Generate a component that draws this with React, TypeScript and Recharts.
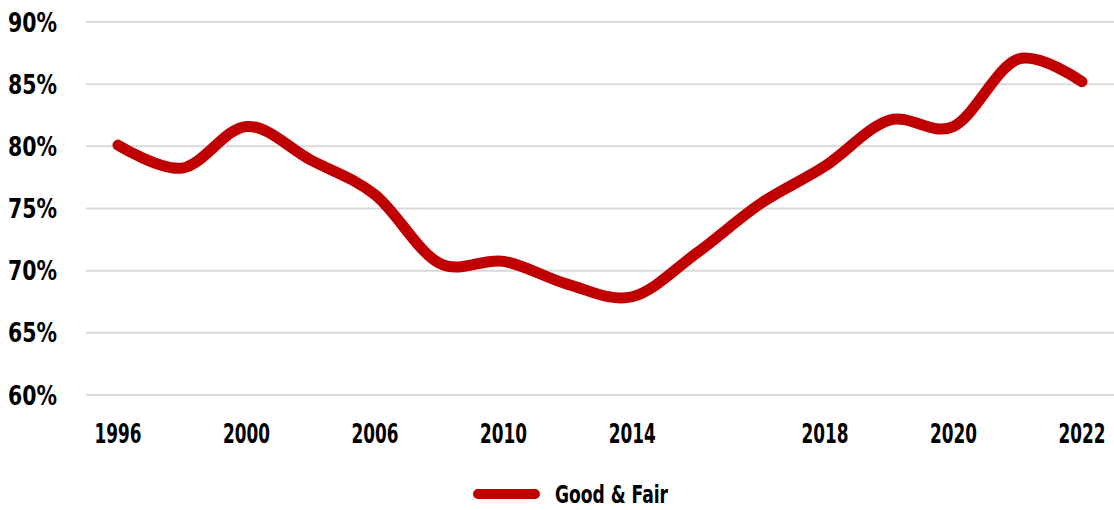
import React from "react";
import { LineChart, Line, XAxis, YAxis, CartesianGrid, Legend } from "recharts";

const years = ["1996", "1998", "2000", "2003", "2006", "2008", "2010", "2012", "2014", "2016", "2017", "2018", "2019", "2020", "2021", "2022"];
const goodFair = [80.1, 78.25, 81.6, 78.9, 76.1, 70.6, 70.75, 68.9, 67.9, 71.4, 75.4, 78.4, 82.1, 81.6, 87.0, 85.2];
const xTickLabels = ["1996", "2000", "2006", "2010", "2014", "2018", "2020", "2022"];
const yTicks = [60, 65, 70, 75, 80, 85, 90];
const seriesName = "Good & Fair";

const data = years.map((y, i) => ({ year: y, value: goodFair[i] }));

const FONT = "'DejaVu Sans Condensed', 'DejaVu Sans', sans-serif";
const RED = "#C00000";

// Excel-like smoothed line (Catmull-Rom / cardinal with tension 0)
const excelSmooth = (context: any) => {
  const k = 1 / 6;
  let x0 = NaN, x1 = NaN, x2 = NaN, y0 = NaN, y1 = NaN, y2 = NaN, n = 0;
  const seg = (x: number, y: number) =>
    context.bezierCurveTo(
      x1 + k * (x2 - x0),
      y1 + k * (y2 - y0),
      x2 + k * (x1 - x),
      y2 + k * (y1 - y),
      x2,
      y2
    );
  return {
    areaStart() {},
    areaEnd() {},
    lineStart() {
      x0 = x1 = x2 = y0 = y1 = y2 = NaN;
      n = 0;
    },
    lineEnd() {
      if (n === 2) context.lineTo(x2, y2);
      else if (n === 3) seg(x1, y1);
    },
    point(x: number, y: number) {
      x = +x;
      y = +y;
      if (n === 0) {
        n = 1;
        context.moveTo(x, y);
      } else if (n === 1) {
        n = 2;
        x1 = x;
        y1 = y;
      } else {
        n = 3;
        seg(x, y);
      }
      x0 = x1; x1 = x2; x2 = x;
      y0 = y1; y1 = y2; y2 = y;
    },
  };
};

const XTick = (props: any) => {
  const { x, y, payload } = props;
  return (
    <text
      x={x}
      y={y}
      dy="0.71em"
      textAnchor="middle"
      fontFamily={FONT}
      fontWeight={700}
      fontSize={27}
      fill="#000"
      textLength={47}
      lengthAdjust="spacingAndGlyphs"
    >
      {payload.value}
    </text>
  );
};

const YTick = (props: any) => {
  const { x, y, payload } = props;
  return (
    <text
      x={x}
      y={y}
      dy="0.355em"
      textAnchor="end"
      fontFamily={FONT}
      fontWeight={700}
      fontSize={27}
      fill="#000"
      textLength={49}
      lengthAdjust="spacingAndGlyphs"
    >
      {`${payload.value}%`}
    </text>
  );
};

const LegendContent = () => (
  <svg width={1114} height={38} style={{ display: "block" }}>
    <line x1={478} y1={22} x2={535} y2={22} stroke={RED} strokeWidth={10} strokeLinecap="round" />
    <text
      x={555}
      y={31}
      fontFamily={FONT}
      fontWeight={700}
      fontSize={25}
      fill="#000"
      textLength={113}
      lengthAdjust="spacingAndGlyphs"
    >
      {seriesName}
    </text>
  </svg>
);

export default function App() {
  return (
    <div style={{ position: "absolute", left: 0, top: 0, width: 1114, height: 510, background: "#fff" }}>
      <LineChart width={1114} height={510} data={data} margin={{ top: 22, right: 0, bottom: 0, left: 0 }}>
        <CartesianGrid vertical={false} stroke="#d9d9d9" strokeWidth={2} />
        <XAxis
          dataKey="year"
          ticks={xTickLabels}
          interval={0}
          axisLine={false}
          tickLine={false}
          tickSize={0}
          tickMargin={29}
          height={77}
          padding={{ left: 32, right: 32 }}
          tick={<XTick />}
        />
        <YAxis
          domain={[60, 90]}
          ticks={yTicks}
          interval={0}
          axisLine={false}
          tickLine={false}
          tickSize={0}
          tickMargin={29}
          width={86}
          tick={<YTick />}
        />
        <Legend verticalAlign="bottom" content={<LegendContent />} wrapperStyle={{ left: 0, width: 1114, bottom: 0 }} />
        <Line
          type={excelSmooth as any}
          dataKey="value"
          name={seriesName}
          stroke={RED}
          strokeWidth={11}
          strokeLinecap="round"
          dot={false}
          activeDot={false}
          isAnimationActive={false}
        />
      </LineChart>
    </div>
  );
}
